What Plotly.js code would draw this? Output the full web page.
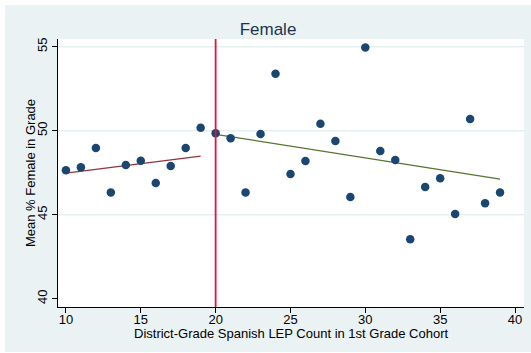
<!DOCTYPE html>
<html>
<head>
<meta charset="utf-8">
<script src="https://cdn.plot.ly/plotly-3.0.1.min.js"></script>
<style>
  html, body { margin: 0; padding: 0; background: #ffffff; }
  #chart { position: absolute; left: 5px; top: 5px; width: 526px; height: 347px; }
</style>
</head>
<body>
<div id="chart"></div>
<script>
// Cohort size (Spanish LEP count) and mean share female, by bin
const lepCount = [10, 11, 12, 13, 14, 15, 16, 17, 18, 19,
                  20, 21, 22, 23, 24, 25, 26, 27, 28, 29,
                  30, 31, 32, 33, 34, 35, 36, 37, 38, 39];
const pctFemale = [47.65, 47.82, 48.97, 46.33, 47.96, 48.21, 46.89, 47.90, 48.97, 50.18,
                   49.85, 49.55, 46.33, 49.80, 53.39, 47.42, 48.20, 50.42, 49.39, 46.05,
                   54.96, 48.79, 48.26, 43.54, 46.65, 47.17, 45.04, 50.70, 45.68, 46.33];

// Linear fits on each side of the cutoff
const fitBelowX = [10, 19];
const fitBelowY = [47.48, 48.49];
const fitAboveX = [20, 39];
const fitAboveY = [49.79, 47.12];

const cutoff = 20;
const xTicks = [10, 15, 20, 25, 30, 35, 40];
const yTicks = [40, 45, 50, 55];
const gridLevels = [45, 50, 55];

const xTitle = 'District-Grade Spanish LEP Count in 1st Grade Cohort';
const yTitle = 'Mean % Female in Grade';

const font = 'Liberation Sans, Arial, sans-serif';

const traces = [
  {
    x: fitBelowX, y: fitBelowY, mode: 'lines', type: 'scatter',
    line: { color: '#90353b', width: 1.3 }, hoverinfo: 'skip'
  },
  {
    x: fitAboveX, y: fitAboveY, mode: 'lines', type: 'scatter',
    line: { color: '#55752f', width: 1.3 }, hoverinfo: 'skip'
  },
  {
    x: lepCount, y: pctFemale, mode: 'markers', type: 'scatter',
    marker: { color: '#1a476f', size: 8.5 }
  }
];

const shapes = gridLevels.map(v => ({
  type: 'line', xref: 'paper', yref: 'y', x0: 0, x1: 1, y0: v, y1: v,
  line: { color: '#e6eff0', width: 1.5 }, layer: 'below'
}));
shapes.push({
  type: 'line', xref: 'x', yref: 'paper', x0: cutoff, x1: cutoff, y0: 0, y1: 1,
  line: { color: '#e3123f', width: 1.8 }, layer: 'above'
});

const layout = {
  width: 526, height: 347,
  margin: { l: 53, r: 7, t: 34, b: 45, pad: 0 },
  paper_bgcolor: '#eaf2f3',
  plot_bgcolor: '#ffffff',
  showlegend: false,
  font: { family: font, size: 13, color: '#000000' },
  title: {
    text: 'Female', x: 0.5, xanchor: 'center',
    y: 0.931, yref: 'container', yanchor: 'middle',
    font: { family: font, size: 17, color: '#1e3250' }
  },
  xaxis: {
    range: [9.47, 40.6], tickvals: xTicks, ticktext: xTicks.map(String),
    showgrid: false, zeroline: false,
    showline: true, linecolor: '#000000', linewidth: 1,
    ticks: 'outside', ticklen: 5, tickcolor: '#000000', tickwidth: 1,
    ticklabelstandoff: -5,
    tickfont: { family: font, size: 13, color: '#000000' }
  },
  yaxis: {
    range: [39.51, 55.46], tickvals: yTicks, ticktext: yTicks.map(String),
    tickangle: -90,
    showgrid: false, zeroline: false,
    showline: true, linecolor: '#000000', linewidth: 1,
    ticks: 'outside', ticklen: 5, tickcolor: '#000000', tickwidth: 1,
    tickfont: { family: font, size: 13, color: '#000000' }
  },
  annotations: [
    {
      text: xTitle, xref: 'paper', yref: 'paper', x: 0.5, y: -0.100,
      xanchor: 'center', yanchor: 'middle', showarrow: false,
      font: { family: font, size: 13, color: '#000000' }
    },
    {
      text: yTitle, xref: 'paper', yref: 'paper', x: -0.060, y: 0.5,
      xanchor: 'center', yanchor: 'middle', textangle: -90, showarrow: false,
      font: { family: font, size: 13, color: '#000000' }
    }
  ],
  shapes: shapes
};

Plotly.newPlot('chart', traces, layout, { displayModeBar: false, staticPlot: true });
</script>
</body>
</html>
